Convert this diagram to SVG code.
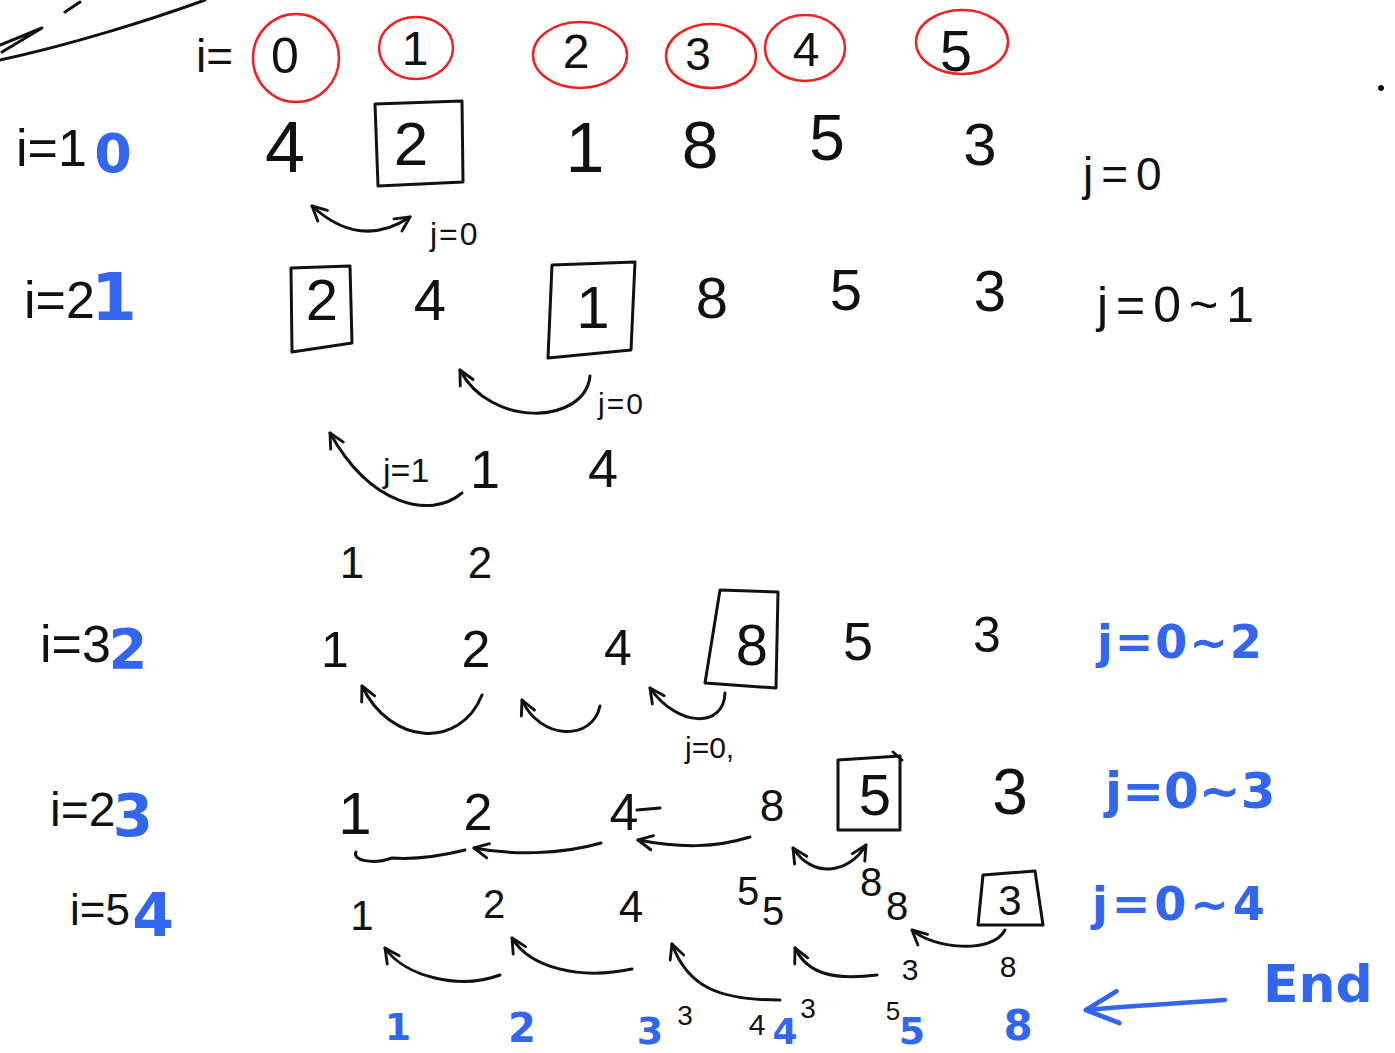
<svg xmlns="http://www.w3.org/2000/svg" width="1395" height="1053" viewBox="0 0 1395 1053">
<defs>
<style>
.k{font-family:"Liberation Sans","DejaVu Sans",sans-serif;fill:#111;text-anchor:middle}
.b{font-family:"DejaVu Sans","Liberation Sans",sans-serif;fill:#3366ee;font-weight:bold;text-anchor:middle}
.bl{font-family:"DejaVu Sans","Liberation Sans",sans-serif;fill:#3366ee;font-weight:bold;text-anchor:start}
.kl{font-family:"Liberation Sans","DejaVu Sans",sans-serif;fill:#111;text-anchor:start}
.r{fill:none;stroke:#ee2222;stroke-width:2.5}
.ln{fill:none;stroke:#111;stroke-width:3;stroke-linecap:round;stroke-linejoin:round}
.bx{fill:none;stroke:#111;stroke-width:3;stroke-linejoin:round}
.bln{fill:none;stroke:#3366ee;stroke-width:4.5;stroke-linecap:round}
.ar{marker-end:url(#ah)}
.ar2{marker-start:url(#ah);marker-end:url(#ah)}
</style>
<marker id="ah" viewBox="0 0 10 10" refX="9" refY="5" markerWidth="18" markerHeight="18" markerUnits="userSpaceOnUse" orient="auto-start-reverse">
<path d="M1,1 L9,5 L1,9" fill="none" stroke="#111" stroke-width="1.6" stroke-linecap="round" stroke-linejoin="round"/>
</marker>
<marker id="bah" viewBox="0 0 10 10" refX="9" refY="5" markerWidth="40" markerHeight="40" markerUnits="userSpaceOnUse" orient="auto">
<path d="M1,1 L9,5 L1,9" fill="none" stroke="#3366ee" stroke-width="1.2" stroke-linecap="round" stroke-linejoin="round"/>
</marker>
</defs>
<rect width="1395" height="1053" fill="#ffffff"/>

<!-- top-left fragments -->
<path class="ln" d="M0,60 C70,45 150,20 205,0"/>
<path class="ln" d="M0,45 L42,28 L2,52"/>
<path class="ln" d="M65,12 L80,2"/>
<circle cx="1381" cy="88" r="3" fill="#111"/>

<!-- index header -->
<text class="kl" x="196" y="72" font-size="46">i=</text>
<g id="idx">
<ellipse class="r" cx="296" cy="58" rx="43" ry="44"/>
<ellipse class="r" cx="416" cy="48" rx="37" ry="31"/>
<ellipse class="r" cx="580" cy="55" rx="47" ry="33"/>
<ellipse class="r" cx="711" cy="56" rx="45" ry="32"/>
<ellipse class="r" cx="805" cy="48" rx="40" ry="33"/>
<ellipse class="r" cx="962" cy="42" rx="46" ry="32"/>
<text class="k" x="285" y="73" font-size="50">0</text>
<text class="k" x="415" y="65" font-size="48">1</text>
<text class="k" x="576" y="68" font-size="48">2</text>
<text class="k" x="698" y="70" font-size="46">3</text>
<text class="k" x="806" y="66" font-size="48">4</text>
<text class="k" x="956" y="71" font-size="58">5</text>
</g>

<!-- row i=0 -->
<g id="row0">
<text class="kl" x="16" y="166" font-size="52">i=1</text>
<text class="b" x="113" y="172" font-size="54">0</text>
<text class="k" x="285" y="172" font-size="72">4</text>
<path class="bx" d="M375,104 L462,101 L463,182 L378,186 Z"/>
<text class="k" x="411" y="165" font-size="62">2</text>
<text class="k" x="585" y="172" font-size="70">1</text>
<text class="k" x="700" y="168" font-size="66">8</text>
<text class="k" x="827" y="160" font-size="64">5</text>
<text class="k" x="980" y="165" font-size="60">3</text>
<text class="kl" x="1083" y="190" font-size="46" letter-spacing="8">j=0</text>
<path class="ln ar2" d="M312,206 Q360,250 410,217"/>
<text class="kl" x="430" y="245" font-size="32" letter-spacing="2">j=0</text>
</g>

<!-- row i=1 -->
<g id="row1">
<text class="kl" x="24" y="318" font-size="52">i=2</text>
<text class="b" x="114" y="320" font-size="66">1</text>
<path class="bx" d="M291,268 L350,266 L352,343 L292,352 Z"/>
<text class="k" x="322" y="320" font-size="58">2</text>
<text class="k" x="430" y="320" font-size="58">4</text>
<path class="bx" d="M552,265 L635,262 L631,350 L548,358 Z"/>
<text class="k" x="593" y="328" font-size="60">1</text>
<text class="k" x="712" y="318" font-size="58">8</text>
<text class="k" x="846" y="310" font-size="58">5</text>
<text class="k" x="990" y="311" font-size="58">3</text>
<text class="kl" x="1097" y="322" font-size="50" letter-spacing="8">j=0~1</text>
<path class="ln ar" d="M590,376 C585,425 490,428 460,370"/>
<text class="kl" x="598" y="414" font-size="30" letter-spacing="2">j=0</text>
</g>

<!-- intermediate -->
<g id="mid">
<path class="ln ar" d="M462,493 C430,520 370,505 330,433"/>
<text class="kl" x="383" y="482" font-size="34">j=1</text>
<text class="k" x="485" y="488" font-size="54">1</text>
<text class="k" x="603" y="487" font-size="54">4</text>
<text class="k" x="352" y="578" font-size="44">1</text>
<text class="k" x="480" y="578" font-size="44">2</text>
</g>

<!-- row i=2 -->
<g id="row2">
<text class="kl" x="40" y="662" font-size="52">i=3</text>
<text class="b" x="128" y="668" font-size="56">2</text>
<text class="k" x="335" y="667" font-size="50">1</text>
<text class="k" x="476" y="667" font-size="52">2</text>
<text class="k" x="618" y="665" font-size="50">4</text>
<path class="bx" d="M720,590 L778,592 L776,688 L705,683 Z"/>
<text class="k" x="752" y="665" font-size="58">8</text>
<text class="k" x="858" y="660" font-size="54">5</text>
<text class="k" x="987" y="652" font-size="50">3</text>
<text class="bl" x="1097" y="658" font-size="46" letter-spacing="2">j=0~2</text>
<path class="ln ar" d="M482,695 C460,750 390,745 362,686"/>
<path class="ln ar" d="M600,706 C592,742 540,740 522,700"/>
<path class="ln ar" d="M725,693 C724,728 678,728 650,688"/>
<text class="kl" x="685" y="758" font-size="30">j=0,</text>
</g>

<!-- row i=3 -->
<g id="row3">
<text class="kl" x="50" y="826" font-size="48">i=2</text>
<text class="b" x="133" y="836" font-size="58">3</text>
<text class="k" x="355" y="834" font-size="60">1</text>
<text class="k" x="478" y="830" font-size="52">2</text>
<text class="k" x="624" y="830" font-size="52">4</text>
<path class="ln" d="M637,810 L660,808"/>
<text class="k" x="772" y="821" font-size="44">8</text>
<path class="bx" d="M838,760 L900,756 L900,830 L838,830 Z"/>
<path class="ln" d="M893,752 L902,760"/>
<text class="k" x="875" y="815" font-size="58">5</text>
<text class="k" x="1010" y="814" font-size="64">3</text>
<text class="bl" x="1105" y="808" font-size="50">j=0~3</text>
<path class="ln" d="M356,852 C352,860 372,865 392,858 C420,860 445,855 465,850"/>
<path class="ln ar" d="M601,843 C560,855 510,855 474,848"/>
<path class="ln ar" d="M750,837 C715,848 680,848 638,840"/>
<path class="ln ar2" d="M793,848 C812,878 848,875 866,845"/>
</g>

<!-- row i=4 -->
<g id="row4">
<text class="kl" x="70" y="925" font-size="44">i=5</text>
<text class="b" x="153" y="936" font-size="60">4</text>
<text class="k" x="362" y="930" font-size="42">1</text>
<text class="k" x="494" y="918" font-size="40">2</text>
<text class="k" x="631" y="922" font-size="44">4</text>
<text class="k" x="748" y="905" font-size="40">5</text>
<text class="k" x="773" y="925" font-size="40">5</text>
<text class="k" x="871" y="896" font-size="40">8</text>
<text class="k" x="897" y="920" font-size="40">8</text>
<path class="bx" d="M983,875 L1035,871 L1043,925 L978,925 Z"/>
<text class="k" x="1010" y="915" font-size="42">3</text>
<text class="bl" x="1092" y="920" font-size="46" letter-spacing="4">j=0~4</text>
<path class="ln ar" d="M500,975 C460,990 405,977 385,948"/>
<path class="ln ar" d="M632,969 C580,980 530,968 512,938"/>
<path class="ln ar" d="M780,1000 C720,1000 688,988 672,944"/>
<path class="ln ar" d="M877,975 C835,980 808,975 795,948"/>
<path class="ln ar" d="M1005,930 C992,955 932,948 912,930"/>
<text class="k" x="910" y="980" font-size="30">3</text>
<text class="k" x="1008" y="977" font-size="30">8</text>
<text class="k" x="685" y="1025" font-size="28">3</text>
<text class="k" x="757" y="1035" font-size="30">4</text>
<text class="k" x="808" y="1018" font-size="28">3</text>
<text class="k" x="893" y="1020" font-size="26">5</text>
</g>

<!-- final row -->
<g id="final">
<text class="b" x="398" y="1040" font-size="38">1</text>
<text class="b" x="522" y="1042" font-size="40">2</text>
<text class="b" x="650" y="1044" font-size="38">3</text>
<text class="b" x="785" y="1044" font-size="36">4</text>
<text class="b" x="912" y="1044" font-size="38">5</text>
<text class="b" x="1018" y="1040" font-size="42">8</text>
<path class="bln" d="M1225,1000 C1180,1003 1130,1006 1086,1010" marker-end="url(#bah)"/>
<text class="bl" x="1263" y="1002" font-size="52">End</text>
</g>
</svg>
